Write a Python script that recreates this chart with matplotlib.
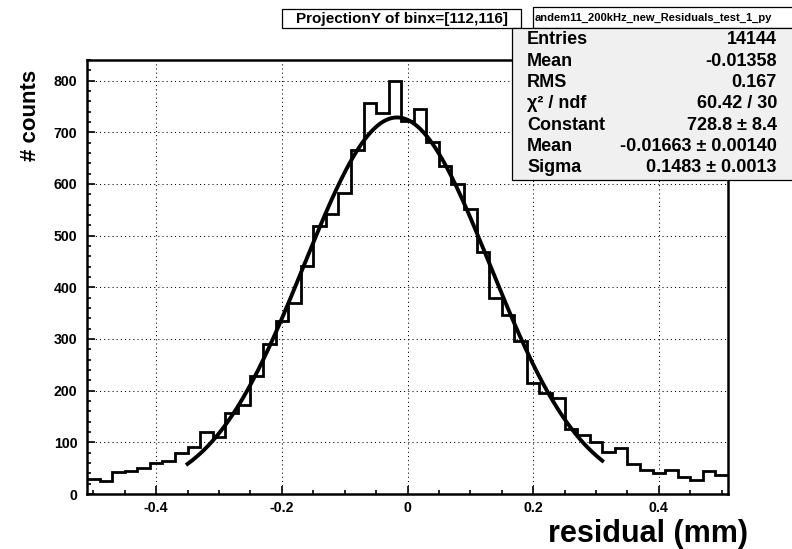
import matplotlib.pyplot as plt
import numpy as np
from matplotlib.patches import Rectangle
from matplotlib.ticker import FuncFormatter, MultipleLocator

plt.rcParams["font.family"] = ["Liberation Sans", "DejaVu Sans"]
plt.rcParams["font.weight"] = "bold"

# Residual histogram: 51 bins of 0.02 mm starting at -0.51
bin_lo = -0.51
bin_width = 0.02
counts = [
    30, 25, 42, 44, 50, 60, 64, 79, 91, 120,
    110, 157, 172, 228, 291, 335, 370, 442, 518, 541,
    582, 666, 756, 738, 800, 722, 745, 681, 634, 600,
    551, 468, 379, 346, 296, 214, 195, 185, 125, 114,
    101, 82, 89, 58, 46, 41, 46, 32, 28, 44,
    37,
]

# Gaussian fit result
fit_const = 728.8
fit_mean = -0.01663
fit_sigma = 0.1483
fit_lo, fit_hi = -0.35, 0.31

title = "ProjectionY of binx=[112,116]"
hist_name = "andem11_200kHz_new_Residuals_test_1_py"
stats_labels = ["Entries", "Mean", "RMS", "χ² / ndf", "Constant", "Mean", "Sigma"]
stats_values = [
    "14144", "-0.01358", "0.167", "60.42 / 30",
    "728.8 ± 8.4", "-0.01663 ± 0.00140", "0.1483 ± 0.0013",
]

W, H = 792, 549
fig = plt.figure(figsize=(W / 100, H / 100), dpi=100)


def fx(px):
    return px / W


def fy(py):
    return 1 - py / H


ax = fig.add_axes([fx(87), fy(494), fx(728) - fx(87), fy(60) - fy(494)])

edges = bin_lo + bin_width * np.arange(len(counts) + 1)
ax.stairs(counts, edges, baseline=None, color="black", lw=2.0, zorder=3)

xf = np.linspace(fit_lo, fit_hi, 400)
yf = fit_const * np.exp(-0.5 * ((xf - fit_mean) / fit_sigma) ** 2)
ax.plot(xf, yf, color="black", lw=2.8, zorder=4)

ax.set_xlim(edges[0], edges[-1])
ax.set_ylim(0, 840)

ax.xaxis.set_major_locator(MultipleLocator(0.2))
ax.xaxis.set_minor_locator(MultipleLocator(0.05))
ax.yaxis.set_major_locator(MultipleLocator(100))
ax.yaxis.set_minor_locator(MultipleLocator(20))
ax.xaxis.set_major_formatter(FuncFormatter(lambda v, p: f"{round(v, 3) + 0.0:g}"))
ax.yaxis.set_major_formatter(FuncFormatter(lambda v, p: f"{v:.0f}"))

ax.tick_params(which="both", direction="in", top=False, right=False, width=1.2)
ax.tick_params(which="major", length=6, labelsize=10.2)
ax.tick_params(which="minor", length=3)
ax.tick_params(axis="x", which="major", pad=5)
ax.tick_params(axis="y", which="major", pad=7)

ax.grid(True, which="major", color="black", lw=0.75, linestyle=(0, (1, 3)))
ax.set_axisbelow(True)
for s in ax.spines.values():
    s.set_linewidth(1.8)

# axis titles
fig.text(fx(748), fy(534), "residual (mm)", ha="right", va="center",
         fontsize=22, fontweight="bold")
fig.text(fx(30), fy(115), "# counts", ha="center", va="center",
         rotation=90, fontsize=16, fontweight="bold")

# title pave
fig.add_artist(Rectangle((fx(282), fy(28)), fx(521) - fx(282), fy(9) - fy(28),
                         transform=fig.transFigure, facecolor="white",
                         edgecolor="black", lw=0.9))
fig.text(fx(402), fy(18.5), title, ha="center", va="center", fontsize=11,
         fontweight="bold")

# stats pave: name header and fit/histogram summary
fig.add_artist(Rectangle((fx(533), fy(28)), fx(800) - fx(533), fy(7) - fy(28),
                         transform=fig.transFigure, facecolor="white",
                         edgecolor="black", lw=0.9))
fig.text(fx(535), fy(17.5), hist_name, ha="left", va="center", fontsize=8,
         fontweight="bold")

fig.add_artist(Rectangle((fx(512), fy(180)), fx(800) - fx(512), fy(28) - fy(180),
                         transform=fig.transFigure, facecolor="#f0f0f0",
                         edgecolor="black", lw=0.9))
row_y = 40.0
for lab, val in zip(stats_labels, stats_values):
    fig.text(fx(527), fy(row_y), lab, ha="left", va="center", fontsize=13,
             fontweight="bold")
    fig.text(fx(777), fy(row_y), val, ha="right", va="center", fontsize=13,
             fontweight="bold")
    row_y += 21.3

fig.savefig("out.png", dpi=100)
